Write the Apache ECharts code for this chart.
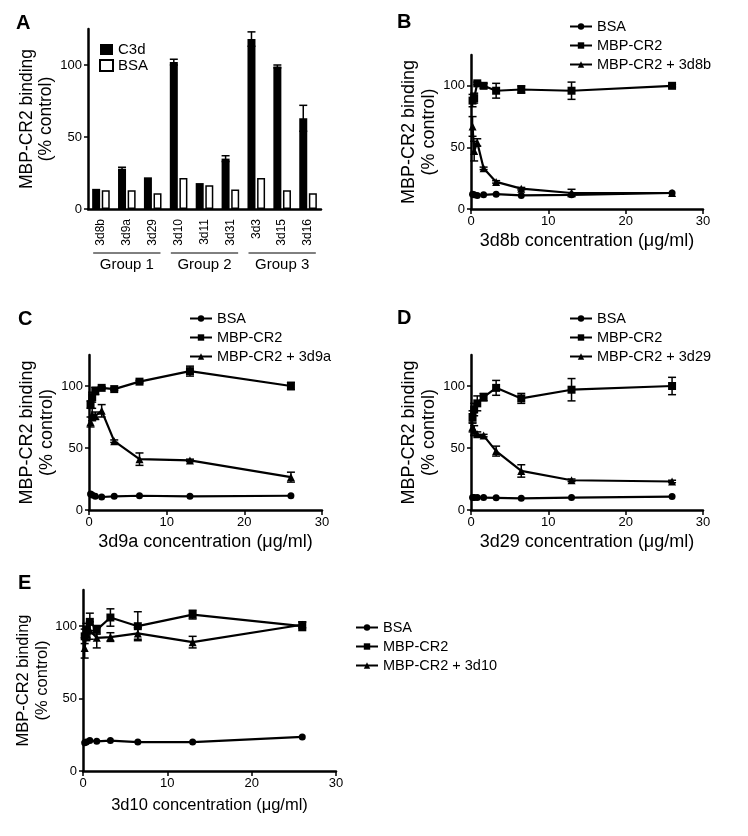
<!DOCTYPE html>
<html>
<head>
<meta charset="utf-8">
<script src="https://cdn.jsdelivr.net/npm/echarts@6/dist/echarts.min.js"></script>
<style>
html, body { margin: 0; padding: 0; background: #fff; }
#main { width: 748px; height: 836px; }
</style>
</head>
<body>
<div id="main"></div>
<script>
const FONT = '"Liberation Sans", Arial, Helvetica, sans-serif'

// panel A - binding to C3d vs BSA
const antibodies = ['3d8b', '3d9a', '3d29', '3d10', '3d11', '3d31', '3d3', '3d15', '3d16']
const c3dBinding = [14, 28, 22, 102, 18, 35, 118, 99, 63]
const c3dErr = [0, 1, 0, 2, 0, 2, 5, 1, 9]
const bsaBinding = [13, 13, 11, 21.5, 16.5, 13.5, 21.5, 13, 11]
const groupNames = ['Group 1', 'Group 2', 'Group 3']
const groupFirst = [0, 3, 6]
const groupLast = [2, 5, 8]

// panels B-E - concentration series (ug/ml)
const conc = [0.2, 0.41, 0.81, 1.63, 3.25, 6.5, 13, 26]

const bsa3d8b = [12, 11.5, 11, 11.5, 12, 11, 11.5, 13]
const cr3d8b = [88, 90, 102, 100, 96, 97, 96, 100]
const cr3d8bErr = [5, 4, 1, 2, 6, 3, 7, 1]
const ab3d8b = [67, 47, 54, 33, 22, 16.5, 13, 13]
const ab3d8bErr = [8, 8, 3, 1, 1, 1, 3, 0]

const bsa3d9a = [13, 12, 11, 10.5, 11, 11.5, 11, 11.5]
const cr3d9a = [85, 91, 96, 98.5, 97.5, 103.5, 112, 100]
const cr3d9aErr = [3, 4, 3, 1, 1, 1, 4, 3]
const ab3d9a = [71, 77, 76, 80, 55.5, 41, 40, 26.5]
const ab3d9aErr = [4, 5, 3, 5, 1, 5, 1, 4]

const bsa3d29 = [10, 10, 10, 10, 9.8, 9.4, 10, 10.8]
const cr3d29 = [75, 81, 86, 91, 98.5, 90, 97, 100]
const cr3d29Err = [5, 5, 6, 3, 6, 4, 9, 7]
const ab3d29 = [67, 64, 61, 60, 47.5, 31.5, 24, 23]
const ab3d29Err = [4, 4, 2, 1, 4, 5, 1, 1]

const bsa3d10 = [19.5, 20, 21, 20.5, 21, 20, 20, 23.5]
const cr3d10 = [93, 97, 103, 97.5, 106, 100, 108, 100]
const cr3d10Err = [5, 5, 6, 3, 6, 10, 3, 3]
const ab3d10 = [85, 95, 97, 92, 92.5, 95, 89, 101]
const ab3d10Err = [7, 5, 6, 7, 3, 4, 4, 2]

const yTicks = [0, 50, 100]

const panels = [
  { key: 'B', ab: '3d8b', bsa: bsa3d8b, cr: cr3d8b, crErr: cr3d8bErr, inh: ab3d8b, inhErr: ab3d8bErr },
  { key: 'C', ab: '3d9a', bsa: bsa3d9a, cr: cr3d9a, crErr: cr3d9aErr, inh: ab3d9a, inhErr: ab3d9aErr },
  { key: 'D', ab: '3d29', bsa: bsa3d29, cr: cr3d29, crErr: cr3d29Err, inh: ab3d29, inhErr: ab3d29Err },
  { key: 'E', ab: '3d10', bsa: bsa3d10, cr: cr3d10, crErr: cr3d10Err, inh: ab3d10, inhErr: ab3d10Err }
]

// layout, one grid per panel (A..E)
const grids = [
  { left: 88, top: 29, width: 233, height: 180 },
  { left: 471, top: 55, width: 232, height: 154 },
  { left: 89, top: 355, width: 233, height: 155 },
  { left: 471, top: 355, width: 232, height: 155 },
  { left: 83, top: 590, width: 253, height: 181 }
]
const legendPos = [
  { left: 99, top: 42 },
  { left: 569, top: 19 },
  { left: 189, top: 311 },
  { left: 569, top: 311 },
  { left: 355, top: 620 }
]
const letterPos = [[16, 13], [397, 12], [18, 309], [397, 308], [18, 573]]
const nameSize = [17.5, 18, 18, 18, 16.5]

const axisLine = { lineStyle: { color: '#000', width: 2.5 } }
const axisTick = { length: 5, lineStyle: { color: '#000', width: 1.5 } }
const labelStyle = { color: '#000', fontSize: 13, fontFamily: FONT }

function yAxisFor(i) {
  return {
    type: 'value', gridIndex: i, min: 0, max: 125, interval: 50,
    name: 'MBP-CR2 binding\n(% control)',
    nameLocation: 'middle', nameGap: i === 0 ? 26 : 28,
    nameTextStyle: { color: '#000', fontSize: nameSize[i], fontFamily: FONT, lineHeight: nameSize[i] + 2 },
    axisLine: { show: true, onZero: false, lineStyle: axisLine.lineStyle },
    axisTick: { show: true, length: 4, lineStyle: axisTick.lineStyle, customValues: yTicks },
    axisLabel: Object.assign({ margin: 6, customValues: yTicks }, labelStyle),
    splitLine: { show: false }
  }
}

function errorBars(gi, xi, data, dx) {
  return {
    type: 'custom',
    xAxisIndex: xi, yAxisIndex: gi,
    data: data,
    z: 4,
    renderItem: function (params, api) {
      const lo = api.coord([api.value(0), api.value(1)])
      const hi = api.coord([api.value(0), api.value(2)])
      const x = lo[0] + (dx || 0)
      const w = 4
      const st = { stroke: '#000', lineWidth: 1.5 }
      return {
        type: 'group',
        children: [
          { type: 'line', shape: { x1: x, y1: lo[1], x2: x, y2: hi[1] }, style: st },
          { type: 'line', shape: { x1: x - w, y1: lo[1], x2: x + w, y2: lo[1] }, style: st },
          { type: 'line', shape: { x1: x - w, y1: hi[1], x2: x + w, y2: hi[1] }, style: st }
        ]
      }
    }
  }
}

function lineSeries(gi, name, symbol, values) {
  return {
    name: name, type: 'line',
    xAxisIndex: gi, yAxisIndex: gi,
    data: conc.map((c, i) => [c, values[i]]),
    symbol: symbol, symbolSize: symbol === 'circle' ? 7 : 8,
    showSymbol: true,
    lineStyle: { color: '#000', width: 2.2 },
    itemStyle: { color: '#000' },
    emphasis: { disabled: true },
    z: 3
  }
}

const xAxes = [{
  type: 'category', gridIndex: 0, data: antibodies,
  axisLine: axisLine,
  axisTick: { alignWithLabel: true, length: 6, lineStyle: axisTick.lineStyle },
  axisLabel: Object.assign({}, labelStyle, { fontSize: 12, rotate: 90, margin: 10, interval: 0 })
}]
const yAxes = [yAxisFor(0)]
const series = [
  { name: 'A|C3d', type: 'bar', xAxisIndex: 0, yAxisIndex: 0, data: c3dBinding,
    barWidth: 8, barGap: '20%', itemStyle: { color: '#000' } },
  { name: 'A|BSA', type: 'bar', xAxisIndex: 0, yAxisIndex: 0, data: bsaBinding,
    barWidth: 8, itemStyle: { color: '#fff', borderColor: '#000', borderWidth: 1.5 } },
  errorBars(0, 0, antibodies.map((n, i) => [i, c3dBinding[i] - c3dErr[i], c3dBinding[i] + c3dErr[i]])
    .filter(d => d[2] > d[1]), -4.8),
  // group brackets under the antibody labels
  {
    type: 'custom', xAxisIndex: 0, yAxisIndex: 0,
    data: groupNames.map((g, i) => [groupFirst[i], groupLast[i]]),
    renderItem: function (params, api) {
      const a = api.coord([api.value(0), 0])
      const b = api.coord([api.value(1), 0])
      const band = api.size([1, 0])[0]
      const y = a[1] + 44
      return {
        type: 'group',
        children: [
          { type: 'line', shape: { x1: a[0] - band * 0.3, y1: y, x2: b[0] + band * 0.3, y2: y },
            style: { stroke: '#000', lineWidth: 1 } },
          { type: 'text', x: (a[0] + b[0]) / 2, y: y + 12,
            style: { text: groupNames[params.dataIndex], fill: '#000', fontSize: 15, fontFamily: FONT,
              align: 'center', verticalAlign: 'middle' } }
        ]
      }
    }
  }
]
const legends = [{
  data: ['A|C3d', 'A|BSA'],
  left: legendPos[0].left, top: legendPos[0].top, orient: 'vertical', padding: 0,
  icon: 'rect', itemWidth: 13, itemHeight: 11, itemGap: 1, selectedMode: false,
  formatter: n => n.split('|')[1],
  textStyle: { color: '#000', fontSize: 15, fontFamily: FONT, lineHeight: 14 }
}]

panels.forEach((p, k) => {
  const gi = k + 1
  xAxes.push({
    type: 'value', gridIndex: gi, min: 0, max: 30, interval: 10,
    name: p.ab + ' concentration (\u03bcg/ml)',
    nameLocation: 'middle', nameGap: gi === 4 ? 26 : 23,
    nameTextStyle: { color: '#000', fontSize: nameSize[gi], fontFamily: FONT },
    axisLine: { show: true, onZero: false, lineStyle: axisLine.lineStyle },
    axisTick: { show: true, length: 5, lineStyle: axisTick.lineStyle },
    axisLabel: Object.assign({ margin: 6 }, labelStyle),
    splitLine: { show: false }
  })
  yAxes.push(yAxisFor(gi))
  const names = [p.key + '|BSA', p.key + '|MBP-CR2', p.key + '|MBP-CR2 + ' + p.ab]
  series.push(lineSeries(gi, names[0], 'circle', p.bsa))
  series.push(lineSeries(gi, names[1], 'rect', p.cr))
  series.push(lineSeries(gi, names[2], 'triangle', p.inh))
  series.push(errorBars(gi, gi, conc.map((c, i) => [c, p.cr[i] - p.crErr[i], p.cr[i] + p.crErr[i]])
    .filter(d => d[2] > d[1])))
  series.push(errorBars(gi, gi, conc.map((c, i) => [c, p.inh[i] - p.inhErr[i], p.inh[i] + p.inhErr[i]])
    .filter(d => d[2] > d[1])))
  legends.push({
    data: names,
    left: legendPos[gi].left, top: legendPos[gi].top, orient: 'vertical', padding: 0,
    itemWidth: 22, itemHeight: 8, itemGap: 4, selectedMode: false,
    formatter: n => n.split('|')[1],
    textStyle: { color: '#000', fontSize: 14.5, fontFamily: FONT, lineHeight: 14 }
  })
})

const chart = echarts.init(document.getElementById('main'), null, { renderer: 'canvas' })
chart.setOption({
  backgroundColor: '#fff',
  animation: false,
  textStyle: { fontFamily: FONT },
  title: ['A', 'B', 'C', 'D', 'E'].map((t, i) => ({
    text: t, left: letterPos[i][0], top: letterPos[i][1], padding: 0,
    textStyle: { color: '#000', fontSize: 20, fontWeight: 'bold', fontFamily: FONT }
  })),
  grid: grids.map(g => Object.assign({ outerBoundsMode: 'none', containLabel: false }, g)),
  legend: legends,
  tooltip: { show: false },
  xAxis: xAxes,
  yAxis: yAxes,
  series: series
})
</script>
</body>
</html>
